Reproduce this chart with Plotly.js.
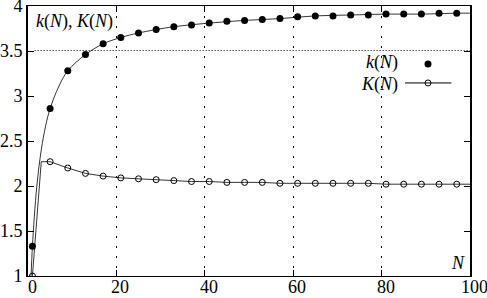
<!DOCTYPE html>
<html>
<head>
<meta charset="utf-8">
<script src="https://cdn.plot.ly/plotly-3.0.1.min.js"></script>
<style>
html,body{margin:0;padding:0;background:#fff;}
#chart{width:487px;height:298px;}
</style>
</head>
<body>
<div id="chart"></div>
<script>
// ---- data ----
const kN   = [1,5,9,13,17,21,25,29,33,37,41,45,49,53,57,61,65,69,73,77,81,85,89,93,97];
const kVal = [1.33,2.86,3.28,3.46,3.58,3.65,3.70,3.74,3.77,3.79,3.81,3.83,3.84,3.85,3.86,3.88,3.89,3.89,3.90,3.90,3.91,3.91,3.91,3.92,3.92];

// thin smooth curve through k(N)
const kCurveN   = [0.7,1,2,3,4,5,7,9,13,17,21,25,33,41,49,57,65,73,81,89,97,100];
const kCurveVal = [1.00,1.33,2.00,2.40,2.67,2.86,3.11,3.28,3.46,3.58,3.65,3.70,3.77,3.81,3.84,3.86,3.89,3.90,3.91,3.91,3.92,3.92];

const KN   = [1,5,9,13,17,21,25,29,33,37,41,45,49,53,57,61,65,69,73,77,81,85,89,93,97];
const KVal = [1.00,2.27,2.20,2.14,2.11,2.09,2.08,2.07,2.06,2.05,2.05,2.04,2.04,2.04,2.03,2.03,2.03,2.03,2.03,2.03,2.02,2.02,2.02,2.02,2.02];
// extra line-only samples of K(N) (between/after markers)
const KExtraN   = [3,100];
const KExtraVal = [2.27,2.02];

const xTicks = [0,20,40,60,80,100];
const yTicks = [1,1.5,2,2.5,3,3.5,4];
const yTickText = ['1','1.5','2','2.5','3','3.5','4'];
const gridY = 3.5;

// build K line arrays
const KLine = KN.map((n,i)=>[n,KVal[i]]).concat(KExtraN.map((n,i)=>[n,KExtraVal[i]])).sort((a,b)=>a[0]-b[0]);

const FONT = 'Liberation Serif';

const traces = [
  {x:kCurveN, y:kCurveVal, type:'scatter', mode:'lines', line:{color:'#000', width:0.8, shape:'spline'}, showlegend:false, hoverinfo:'skip'},
  {x:KLine.map(p=>p[0]), y:KLine.map(p=>p[1]), type:'scatter', mode:'lines', line:{color:'#000', width:0.8}, showlegend:false, hoverinfo:'skip'},
  {x:kN, y:kVal, name:'k(N)', type:'scatter', mode:'markers', marker:{symbol:'circle', size:7, color:'#000'}, showlegend:false},
  {x:KN, y:KVal, name:'K(N)', type:'scatter', mode:'markers', marker:{symbol:'circle-open', size:6, color:'#000', line:{width:1, color:'#000'}}, showlegend:false}
];

// x tick labels as annotations (placed a little closer to the axis than Plotly's default)
const xLabelAnns = xTicks.map(v => ({
  xref:'x', yref:'paper', x:v, y:0, xanchor:'center', yanchor:'top', yshift:0, xshift:4,
  showarrow:false, text:String(v), font:{family:FONT, size:18, color:'#000'}, borderpad:0
}));

const layout = {
  width:487, height:298,
  margin:{l:28, r:17, t:6, b:22, pad:0},
  paper_bgcolor:'#fff', plot_bgcolor:'#fff',
  font:{family:FONT, size:18, color:'#000'},
  showlegend:false,
  xaxis:{
    range:[0,100], tickvals:xTicks, showticklabels:false,
    ticks:'inside', ticklen:6, tickwidth:1, tickcolor:'#000',
    showline:true, linecolor:'#000', linewidth:1, mirror:'ticks',
    showgrid:true, gridcolor:'#000', gridwidth:1, griddash:'2px,8px',
    zeroline:false
  },
  yaxis:{
    range:[1,4], tickvals:yTicks, ticktext:yTickText,
    ticks:'inside', ticklen:6, tickwidth:1, tickcolor:'#000',
    showline:true, linecolor:'#000', linewidth:2, mirror:'ticks',
    showgrid:false, zeroline:false, ticklabeloverflow:'allow',
    tickfont:{family:FONT, size:18, color:'#000'}
  },
  shapes:[
    {type:'line', xref:'paper', yref:'y', ysizemode:'pixel', yanchor:gridY, x0:0.015, x1:1, y0:0.5, y1:0.5, line:{color:'#000', width:1, dash:'1px,2px'}},
    // legend samples
    {type:'circle', xref:'paper', yref:'paper', xsizemode:'pixel', ysizemode:'pixel', xanchor:0.905, yanchor:0.785, x0:-3.5, x1:3.5, y0:-3.5, y1:3.5, fillcolor:'#000', line:{color:'#000', width:0}},
    {type:'line', xref:'paper', yref:'paper', x0:0.853, x1:0.958, y0:0.715, y1:0.715, line:{color:'#000', width:1}},
    {type:'circle', xref:'paper', yref:'paper', xsizemode:'pixel', ysizemode:'pixel', xanchor:0.905, yanchor:0.715, x0:-3, x1:3, y0:-3, y1:3, fillcolor:'rgba(0,0,0,0)', line:{color:'#000', width:1}}
  ],
  annotations:[
    {xref:'paper', yref:'paper', x:0.014, y:0.942, xanchor:'left', yanchor:'middle', showarrow:false,
     text:'<i>k</i>(<i>N</i>), <i>K</i>(<i>N</i>)', font:{family:FONT, size:18, color:'#000'}},
    {xref:'paper', yref:'paper', x:0.973, y:0.048, xanchor:'center', yanchor:'middle', showarrow:false,
     text:'<i>N</i>', font:{family:FONT, size:18, color:'#000'}},
    {xref:'paper', yref:'paper', x:0.8416, y:0.789, xanchor:'right', yanchor:'middle', showarrow:false,
     text:'<i>k</i>(<i>N</i>)', font:{family:FONT, size:18, color:'#000'}},
    {xref:'paper', yref:'paper', x:0.8416, y:0.711, xanchor:'right', yanchor:'middle', showarrow:false,
     text:'<i>K</i>(<i>N</i>)', font:{family:FONT, size:18, color:'#000'}}
  ].concat(xLabelAnns)
};

Plotly.newPlot('chart', traces, layout, {staticPlot:true, displayModeBar:false});
</script>
</body>
</html>
